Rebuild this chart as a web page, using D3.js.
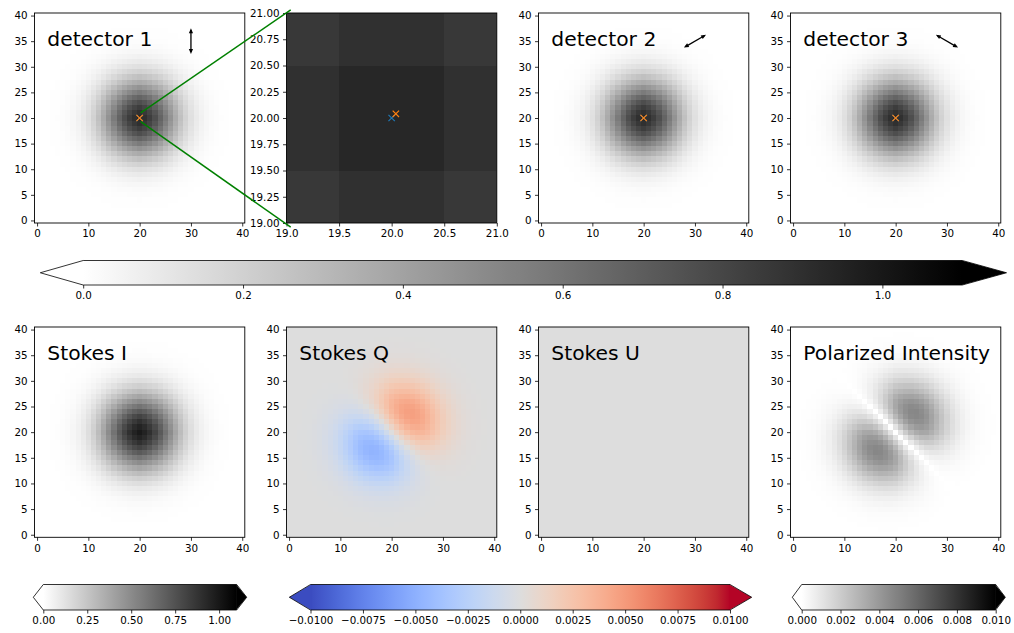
<!DOCTYPE html>
<html><head><meta charset="utf-8">
<script src="https://cdn.jsdelivr.net/npm/d3@7"></script>
<style>
body{margin:0;background:#fff}
svg{display:block}
text{font-family:"DejaVu Sans",sans-serif;fill:#000}
</style>
</head><body>
<svg id="c" width="1014" height="633"></svg>
<script>
// ---------------- data ----------------
const gridSize = 41;          // pixels 0..40 on each axis
const centrePix = 20;
// radial brightness profile (distance in pixels 0..20)
const profile = [1.00,0.96,0.90,0.82,0.72,0.61,0.50,0.39,0.29,0.21,0.145,0.097,0.063,0.039,0.023,0.013,0.007,0.004,0.002,0.001,0.0005];
const detectorPeak = 0.93;
const stokesIPeak = 0.99;
const stokesQPeak = 0.0047;
const detectorTitles = ["detector 1", "detector 2", "detector 3"];
const polarizerAngles = [90, 30, 150];   // degrees of the double arrow
const stokesTitles = ["Stokes I", "Stokes Q", "Stokes U", "Polarized Intensity"];
const imgXTicks = [0, 10, 20, 30, 40];
const imgYTicks = [0, 5, 10, 15, 20, 25, 30, 35, 40];
const zoomXTicks = [19.0, 19.5, 20.0, 20.5, 21.0];
const zoomYTicks = [19.0, 19.25, 19.5, 19.75, 20.0, 20.25, 20.5, 20.75, 21.0];
const zoomDomain = [19, 21];
const centroidMarkers = [{x: 20, y: 20, c: "#1f77b4"}, {x: 20.04, y: 20.04, c: "#ff7f0e"}];
const cbTopTicks = [0, 0.2, 0.4, 0.6, 0.8, 1.0];
const cbTopRange = [0, 1.1];
const cbITicks = [0, 0.25, 0.5, 0.75, 1.0];
const cbIRange = [0, 1.1];
const cbQTicks = [-0.01, -0.0075, -0.005, -0.0025, 0, 0.0025, 0.005, 0.0075, 0.01];
const cbQRange = [-0.01, 0.01];
const cbPITicks = [0, 0.002, 0.004, 0.006, 0.008, 0.01];
const cbPIRange = [0, 0.01];
const coolwarmStops = [[59,76,192],[68,90,204],[77,104,215],[87,117,225],[98,130,234],[108,142,241],[119,154,247],[130,165,251],[141,176,254],[152,185,255],[163,194,255],[174,201,253],[184,208,249],[194,213,244],[204,217,238],[213,219,230],[221,221,221],[229,216,209],[236,211,197],[241,204,184],[245,196,172],[247,187,160],[247,177,148],[247,166,135],[244,154,123],[241,141,111],[236,127,99],[229,112,88],[222,96,77],[213,80,66],[203,62,56],[192,40,47],[180,4,38]];
const zoomLines = [
  {from: [20.2, 21.0], to: [19.04, 21.03]},
  {from: [20.2, 19.3], to: [19.04, 18.96]}
];

// ---------------- layout ----------------
const colLeft = [34.5, 286.5, 538.5, 790.5];
const panelW = 210.3;
const topRow = [13, 223];
const botRow = [327, 537.3];
const tickFs = 10.3, titleFs = 20.3;

const svg = d3.select("#c");
const defs = svg.append("defs");

// colour maps
const grayR = vmax => d3.scaleLinear().domain([0, vmax]).range(["#ffffff", "#000000"]).clamp(true);
const coolwarm = (() => {
  const dom = coolwarmStops.map((_, i) => i / (coolwarmStops.length - 1));
  const s = d3.scaleLinear().domain(dom).range(coolwarmStops.map(c => d3.rgb(c[0], c[1], c[2]).toString())).interpolate(d3.interpolateRgb).clamp(true);
  return (lo, hi) => v => s((v - lo) / (hi - lo));
})();

// pixel grid values
const cells = [];
for (let j = 0; j < gridSize; j++) for (let i = 0; i < gridSize; i++) cells.push({i, j});
const base = (i, j) => profile[Math.abs(i - centrePix)] * profile[Math.abs(j - centrePix)];
let qNorm = 0;
cells.forEach(c => { qNorm = Math.max(qNorm, ((c.i - centrePix) + (c.j - centrePix)) * base(c.i, c.j)); });
const valDet = c => detectorPeak * base(c.i, c.j);
const valI = c => stokesIPeak * base(c.i, c.j);
const valQ = c => stokesQPeak * ((c.i - centrePix) + (c.j - centrePix)) * base(c.i, c.j) / qNorm;
const valU = c => 0;
const valPI = c => Math.abs(valQ(c));

let clipId = 0;
function panel(left, row, domain, xTicks, yTicks, xFmt, yFmt) {
  const x = d3.scaleLinear().domain(domain).range([left, left + panelW]);
  const y = d3.scaleLinear().domain(domain).range([row[1], row[0]]);
  const g = svg.append("g");
  const id = "clip" + (clipId++);
  defs.append("clipPath").attr("id", id).append("rect")
    .attr("x", left).attr("y", row[0]).attr("width", panelW).attr("height", row[1] - row[0]);
  const img = g.append("g").attr("clip-path", `url(#${id})`).attr("shape-rendering", "crispEdges");
  const over = g.append("g").attr("clip-path", `url(#${id})`);
  const frame = g.append("g");
  frame.append("rect").attr("x", left).attr("y", row[0]).attr("width", panelW).attr("height", row[1] - row[0])
    .attr("fill", "none").attr("stroke", "#000").attr("stroke-width", 0.9);
  const xa = frame.append("g").attr("transform", `translate(0,${row[1]})`)
    .call(d3.axisBottom(x).tickValues(xTicks).tickFormat(xFmt).tickSizeOuter(0).tickSize(3.5).tickPadding(3.5));
  const ya = frame.append("g").attr("transform", `translate(${left},0)`)
    .call(d3.axisLeft(y).tickValues(yTicks).tickFormat(yFmt).tickSizeOuter(0).tickSize(3.5).tickPadding(3.5));
  [xa, ya].forEach(a => {
    a.select(".domain").remove();
    a.selectAll("line").attr("stroke", "#000").attr("stroke-width", 0.8);
    a.selectAll("text").attr("font-size", tickFs).attr("font-family", "DejaVu Sans").attr("fill", "#000");
  });
  return {x, y, img, over, g};
}

function drawImage(p, valueFn, colorFn) {
  p.img.selectAll("rect").data(cells).join("rect")
    .attr("x", c => p.x(c.i - 0.5))
    .attr("y", c => p.y(c.j + 0.5))
    .attr("width", c => p.x(c.i + 0.5) - p.x(c.i - 0.5))
    .attr("height", c => p.y(c.j - 0.5) - p.y(c.j + 0.5))
    .attr("fill", c => colorFn(valueFn(c)));
}

function marker(p, m) {
  const cx = p.x(m.x), cy = p.y(m.y), r = 3.2;
  p.over.append("path").attr("d", `M${cx-r},${cy-r}L${cx+r},${cy+r}M${cx-r},${cy+r}L${cx+r},${cy-r}`)
    .attr("stroke", m.c).attr("stroke-width", 1.2).attr("fill", "none");
}

function title(p, t) {
  p.over.append("text").attr("x", p.x(2)).attr("y", p.y(34)).attr("font-size", titleFs).text(t);
}

function dblArrow(p, angle) {
  const a = angle * Math.PI / 180, L = 2.5;
  const x1 = p.x(30 - L * Math.cos(a)), y1 = p.y(35 - L * Math.sin(a));
  const x2 = p.x(30 + L * Math.cos(a)), y2 = p.y(35 + L * Math.sin(a));
  const ux = (x2 - x1), uy = (y2 - y1), len = Math.hypot(ux, uy);
  const dx = ux / len, dy = uy / len, hl = 5, hw = 2.1;
  p.over.append("line").attr("x1", x1 + dx * 2).attr("y1", y1 + dy * 2).attr("x2", x2 - dx * 2).attr("y2", y2 - dy * 2)
    .attr("stroke", "#000").attr("stroke-width", 1.3);
  const head = (tx, ty, sx, sy) => {
    const bx = tx - sx * hl, by = ty - sy * hl;
    p.over.append("path").attr("d", `M${tx},${ty}L${bx - sy * hw},${by + sx * hw}L${bx + sy * hw},${by - sx * hw}Z`).attr("fill", "#000");
  };
  head(x2, y2, dx, dy);
  head(x1, y1, -dx, -dy);
}

const imgDomain = [-0.5, 40.5];
const fmtInt = d3.format("d");

// ---------------- top row ----------------
const gTop = grayR(cbTopRange[1]);
const det1 = panel(colLeft[0], topRow, imgDomain, imgXTicks, imgYTicks, fmtInt, fmtInt);
drawImage(det1, valDet, gTop);
const zoomP = panel(colLeft[1], topRow, zoomDomain, zoomXTicks, zoomYTicks, d3.format(".1f"), d3.format(".2f"));
drawImage(zoomP, valDet, gTop);
const det2 = panel(colLeft[2], topRow, imgDomain, imgXTicks, imgYTicks, fmtInt, fmtInt);
drawImage(det2, valDet, gTop);
const det3 = panel(colLeft[3], topRow, imgDomain, imgXTicks, imgYTicks, fmtInt, fmtInt);
drawImage(det3, valDet, gTop);
[det1, det2, det3].forEach((p, k) => {
  centroidMarkers.forEach(m => marker(p, {x: 20, y: 20, c: m.c}));
  title(p, detectorTitles[k]);
  dblArrow(p, polarizerAngles[k]);
});
centroidMarkers.forEach(m => marker(zoomP, m));

// ---------------- bottom row ----------------
const sI = panel(colLeft[0], botRow, imgDomain, imgXTicks, imgYTicks, fmtInt, fmtInt);
drawImage(sI, valI, grayR(cbIRange[1]));
const sQ = panel(colLeft[1], botRow, imgDomain, imgXTicks, imgYTicks, fmtInt, fmtInt);
drawImage(sQ, valQ, coolwarm(cbQRange[0], cbQRange[1]));
const sU = panel(colLeft[2], botRow, imgDomain, imgXTicks, imgYTicks, fmtInt, fmtInt);
drawImage(sU, valU, coolwarm(cbQRange[0], cbQRange[1]));
const sPI = panel(colLeft[3], botRow, imgDomain, imgXTicks, imgYTicks, fmtInt, fmtInt);
drawImage(sPI, valPI, grayR(cbPIRange[1]));
[sI, sQ, sU, sPI].forEach((p, k) => title(p, stokesTitles[k]));

// ---------------- colorbars ----------------
let gradId = 0;
function colorbar(x0, x1, tipL, tipR, y0, y1, range, ticks, fmt, colorFn, lowCol, highCol) {
  const id = "grad" + (gradId++);
  const grad = defs.append("linearGradient").attr("id", id).attr("x1", "0%").attr("x2", "100%");
  d3.range(0, 65).forEach(k => {
    const t = k / 64;
    grad.append("stop").attr("offset", (t * 100) + "%").attr("stop-color", colorFn(range[0] + t * (range[1] - range[0])));
  });
  const ym = (y0 + y1) / 2;
  const g = svg.append("g");
  g.append("rect").attr("x", x0).attr("y", y0).attr("width", x1 - x0).attr("height", y1 - y0).attr("fill", `url(#${id})`);
  g.append("path").attr("d", `M${x0 + 0.6},${y0}L${tipL},${ym}L${x0 + 0.6},${y1}Z`).attr("fill", lowCol);
  g.append("path").attr("d", `M${x1 - 0.6},${y0}L${tipR},${ym}L${x1 - 0.6},${y1}Z`).attr("fill", highCol);
  g.append("path").attr("d", `M${x0},${y0}L${x1},${y0}L${tipR},${ym}L${x1},${y1}L${x0},${y1}L${tipL},${ym}Z`)
    .attr("fill", "none").attr("stroke", "#000").attr("stroke-width", 0.8);
  const s = d3.scaleLinear().domain(range).range([x0, x1]);
  const ax = g.append("g").attr("transform", `translate(0,${y1})`)
    .call(d3.axisBottom(s).tickValues(ticks).tickFormat(fmt).tickSizeOuter(0).tickSize(3.5).tickPadding(3.5));
  ax.select(".domain").remove();
  ax.selectAll("line").attr("stroke", "#000").attr("stroke-width", 0.8);
  ax.selectAll("text").attr("font-size", tickFs).attr("font-family", "DejaVu Sans").attr("fill", "#000");
}
colorbar(83.2, 962.3, 40.3, 1006.5, 260.5, 285, cbTopRange, cbTopTicks, d3.format(".1f"), grayR(cbTopRange[1]), "#ffffff", "#000000");
colorbar(43.3, 236.7, 33.3, 246.7, 584.5, 610, cbIRange, cbITicks, d3.format(".2f"), grayR(cbIRange[1]), "#ffffff", "#000000");
const cwQ = coolwarm(cbQRange[0], cbQRange[1]);
colorbar(310.5, 730, 289.3, 751.7, 584.5, 610, cbQRange, cbQTicks, d3.format(".4f"), cwQ, cwQ(-1), cwQ(1));
colorbar(801.7, 995.7, 792.3, 1005.3, 584.5, 610, cbPIRange, cbPITicks, d3.format(".3f"), grayR(cbPIRange[1]), "#ffffff", "#000000");

// ---------------- connection lines ----------------
zoomLines.forEach(l => {
  svg.append("line")
    .attr("x1", det1.x(l.from[0])).attr("y1", det1.y(l.from[1]))
    .attr("x2", zoomP.x(l.to[0])).attr("y2", zoomP.y(l.to[1]))
    .attr("stroke", "#008000").attr("stroke-width", 1.5);
});
</script>
</body></html>
